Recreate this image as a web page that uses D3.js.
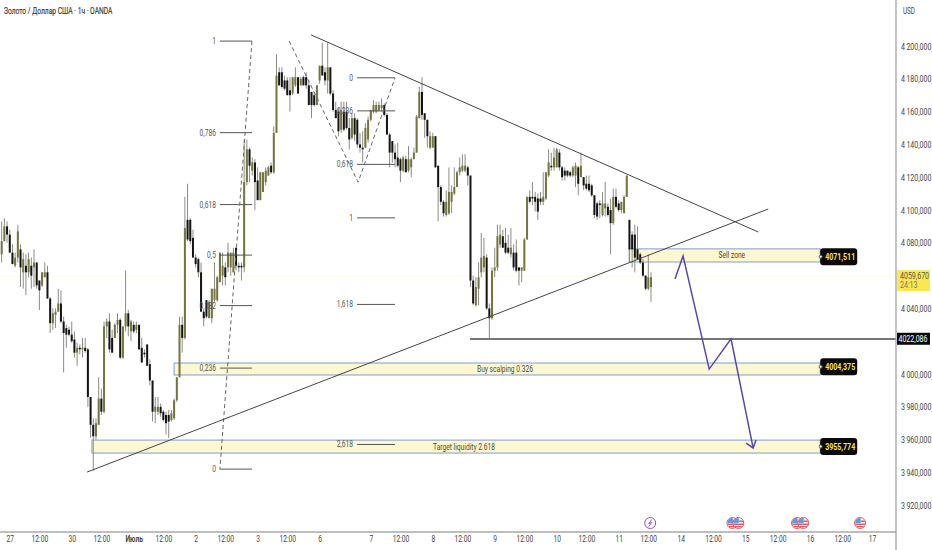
<!DOCTYPE html>
<html>
<head>
<meta charset="utf-8">
<script src="https://cdn.jsdelivr.net/npm/d3@7/dist/d3.min.js"></script>
<style>
  body { margin: 0; background: #fff; }
  svg { display: block; }
  text { font-family: Roboto, sans-serif; }
</style>
</head>
<body>
<div id="chart"></div>
<script>
// candle values, one bar per hour
var opens = [4073,4081,4090,4085,4074,4066,4071,4076,4062,4066,4062,4066,4065,4068,4057,4054,4059,4062,4046,4031,4036,4038,4043,4032,4028,4027,4024,4021,4013,4016,4015,4016,4015,3986,3969,3962,3969,3985,3977,4029,4032,4022,4022,4030,4033,4010,4029,4037,
  4026,4030,4027,4030,4016,4013,4018,4006,3996,3977,3977,3980,3977,3975,3975,3972,3973,3984,3998,4030,4022,4094,4094,4083,4071,4070,4062,4038,4045,4034,4034,4045,4045,4056,4060,4065,4065,4065,4062,4077,4066,4066,4065,4117,4137,4124,4129,4118,4106,4111,4117,4121,4127,4123,4147,
  4184,4184,4179,4179,4173,4171,4176,4181,4176,4181,4181,4176,4172,4170,4164,4179,4188,4184,4179,4187,4171,4161,4160,4149,4160,4160,4150,4144,4156,4155,4140,4138,4138,4143,4155,4160,4160,4161,4162,4164,4158,4146,4142,4135,4132,
  4131,4124,4131,4124,4126,4131,4135,4156,4172,4159,4155,4138,4138,4145,4127,4114,4105,4097,4098,4105,4110,4114,4123,4124,4124,4126,4121,4057,4042,4052,4062,4065,4071,4040,4034,4063,4065,4079,4084,4080,4077,4073,4074,4074,4065,4063,4063,4082,
  4108,4108,4108,4107,4107,4105,4107,4121,4127,4126,4126,4135,4126,4124,4124,4123,4121,4121,4126,4120,4120,4116,4116,4115,4109,4104,4104,4097,4101,4102,4100,4092,4108,4104,4100,4098,4108,4094,4085,4085,4076,4073,4068,4060,4052,4053];
var highs = [4093,4095,4093,4088,4079,4074,4091,4079,4074,4073,4074,4071,4076,4068,4057,4062,4068,4066,4047,4040,4040,4052,4051,4035,4030,4029,4032,4026,4019,4018,4022,4022,4016,3986,3973,3973,3998,3991,4032,4034,4037,4027,4031,4037,4034,4029,4063,4039,
  4033,4032,4032,4030,4022,4015,4018,4009,3996,3986,3986,3982,3978,3977,3978,3978,3985,3998,4035,4035,4108,4116,4095,4088,4073,4071,4068,4039,4045,4045,4052,4068,4060,4074,4074,4068,4080,4074,4077,4077,4068,4068,4143,4143,4138,4132,4131,4126,4123,4123,4126,4127,4129,4151,4195,
  4187,4187,4182,4181,4181,4181,4187,4181,4181,4182,4184,4179,4172,4172,4176,4188,4202,4187,4202,4187,4173,4166,4162,4166,4166,4166,4156,4159,4159,4156,4147,4148,4153,4157,4161,4167,4166,4166,4168,4165,4159,4147,4142,4140,4141,
  4132,4133,4133,4139,4132,4138,4158,4175,4181,4159,4155,4148,4147,4145,4127,4115,4106,4112,4126,4115,4126,4124,4132,4134,4134,4127,4121,4060,4059,4068,4086,4083,4073,4043,4065,4077,4091,4091,4088,4089,4085,4089,4079,4082,4065,4065,4083,4108,
  4112,4117,4111,4110,4111,4123,4123,4137,4135,4138,4138,4137,4127,4126,4124,4124,4127,4129,4127,4135,4120,4121,4121,4116,4109,4105,4106,4111,4117,4104,4107,4113,4113,4106,4105,4109,4121,4094,4087,4091,4090,4074,4070,4060,4073,4062];
var lows = [4068,4081,4080,4074,4067,4065,4068,4053,4052,4048,4059,4052,4053,4052,4039,4053,4059,4046,4025,4027,4028,4038,4031,4001,4016,4023,4019,4010,4005,4012,4010,4013,3980,3961,3941,3960,3969,3975,3976,4022,4013,4013,4022,4025,4009,4009,4026,4023,
  4020,4025,4025,4015,4007,4010,4005,3993,3971,3970,3975,3974,3971,3963,3961,3971,3972,3983,3998,4013,4021,4081,4079,4071,4065,4059,4038,4029,4034,4034,4031,4044,4044,4056,4054,4054,4062,4060,4062,4063,4062,4057,4062,4115,4117,4121,4100,4106,4106,4111,4115,4121,4122,4122,4147,
  4176,4174,4173,4170,4160,4170,4175,4171,4176,4176,4174,4164,4156,4163,4164,4177,4182,4176,4171,4170,4160,4156,4145,4147,4148,4149,4137,4143,4142,4138,4135,4129,4138,4141,4154,4159,4159,4160,4160,4157,4146,4126,4129,4126,4126,
  4117,4123,4123,4123,4120,4131,4135,4156,4155,4144,4138,4137,4138,4126,4093,4103,4096,4096,4097,4098,4109,4114,4121,4123,4123,4115,4053,4042,4041,4042,4059,4062,4039,4022,4033,4059,4063,4077,4077,4073,4073,4071,4063,4062,4054,4056,4063,4082,
  4104,4103,4099,4094,4103,4103,4106,4120,4124,4124,4126,4124,4118,4118,4120,4120,4120,4114,4109,4120,4112,4112,4111,4108,4095,4094,4095,4096,4096,4096,4073,4091,4101,4099,4098,4098,4108,4068,4065,4062,4070,4067,4059,4051,4051,4044];
var closes = [4081,4090,4085,4074,4067,4071,4087,4065,4070,4062,4070,4060,4068,4054,4051,4062,4062,4046,4031,4037,4038,4043,4032,4025,4024,4024,4020,4013,4016,4015,4016,4014,3986,3969,3962,3970,3985,3977,4029,4032,4015,4013,4030,4033,4010,4029,4037,4029,
  4032,4026,4030,4015,4007,4012,4005,3996,3977,3980,3980,3976,3972,3970,3971,3976,3984,3998,4030,4022,4089,4082,4081,4071,4067,4062,4038,4034,4035,4044,4052,4052,4059,4074,4066,4059,4074,4074,4074,4066,4065,4065,4117,4137,4127,4129,4117,4106,4123,4123,4124,4126,4123,4147,4182,
  4176,4175,4174,4170,4170,4181,4181,4171,4180,4176,4176,4164,4164,4164,4176,4188,4182,4179,4187,4171,4161,4156,4148,4161,4149,4150,4143,4156,4146,4140,4138,4137,4150,4155,4161,4164,4164,4164,4164,4158,4146,4135,4135,4131,4127,
  4124,4132,4123,4131,4131,4135,4157,4172,4158,4155,4145,4145,4145,4126,4114,4105,4098,4105,4111,4111,4114,4123,4126,4127,4127,4121,4057,4043,4053,4059,4071,4072,4040,4034,4063,4065,4084,4085,4077,4074,4074,4077,4065,4063,4063,4065,4082,4108,
  4105,4107,4105,4099,4105,4108,4123,4129,4126,4132,4137,4126,4120,4121,4121,4121,4126,4127,4116,4127,4115,4113,4112,4109,4097,4096,4103,4104,4104,4097,4092,4108,4102,4100,4105,4108,4121,4076,4076,4071,4070,4068,4060,4052,4059,4059];

var priceTicks = [4200,4180,4160,4140,4120,4100,4080,4040,4000,3980,3960,3940,3920];
var timeTickBars = [3,14,26,37,49,60,72,83,95,106,118,137,148,160,171,183,194,206,217,229,240,252,264,276,288,300,312,323];
var timeTickLabels = ["27","12:00","30","12:00","Июль","12:00","2","12:00","3","12:00","6","7","12:00","8","12:00","9","12:00","10","12:00","11","12:00","14","12:00","15","12:00","16","12:00","17"];

// drawings, as [bar, price]
var upperTrend = [[114.8,4206.8],[280.8,4086.6]];
var lowerTrend = [[31.7,3940.2],[284.5,4100.6]];
var fibARatios = [1,0.786,0.618,0.5,0.382,0.236,0];
var fibALabels = ["1","0,786","0,618","0,5","0,382","0,236","0"];
var fibABars = [81,92.9];
var fibAPrices = [3942,4203];
var fibAPath = [[92.9,4203],[81,3942]];
var fibBRatios = [0,0.236,0.618,1,1.618,2.618];
var fibBLabels = ["0","0,236","0,618","1","1,618","2,618"];
var fibBBars = [131.9,146];
var fibBPrices = [4180.6,4095.2];
var fibBPath = [[106.7,4203],[132.3,4117],[146,4180.6]];

var zoneNames = ["Sell zone","Buy scalping 0.326","Target liquidity 2.618"];
var zoneStartBars = [232.9,64,33.5];
var zoneEndBar = 303.8;
var zoneTextBars = [271,186.8,171.6];
var zoneTops = [4076.3,4006.7,3959.7];
var zoneBottoms = [4068.3,3999.4,3951.8];
var zoneLabels = [4071.511,4004.375,3955.774];

var levelPrice = 4022.086;
var levelLine = [[173.8,4021.4],[331.8,4021.4]];
var lastPrice = 4059.67;
var countdown = "24:13";
var arrowPath = [[249.9,4058],[252.9,4072],[262.6,4003],[270.7,4021.4],[278.9,3954.9]];
var arrowHead = [[276.3,3957.9],[278.9,3954.9],[280,3959.7]];
var boltBars = [240.7];
var flagBars = [271.2,273.4,295.2,297.5,318.6];

var svgWidth = 932;
var svgHeight = 550;
var axisX = 896;
var axisY = 532;
// the source font is condensed, none is installed so the text gets squeezed at the end
var textSqueeze = 0.74;

var svg = d3.select("#chart")
  .append("svg")
  .attr("width", svgWidth)
  .attr("height", svgHeight);

var x = d3.scaleLinear().domain([0, 241]).range([1.67, 651]);
var y = d3.scaleLinear().domain([3920, 4200]).range([505.2, 46]);
var line = d3.line().x(d => x(d[0])).y(d => y(d[1]));

var priceFormat = d3.formatLocale({decimal: ",", thousands: "\u2009", grouping: [3], currency: ["", ""]}).format(",.3f");

// faint last price line
svg.append("line")
  .attr("x1", 0).attr("x2", axisX)
  .attr("y1", y(lastPrice)).attr("y2", y(lastPrice))
  .attr("stroke", "#fdfbe0");

// zones go under the candles
var zones = svg.append("g");
zoneNames.forEach(function(name, i) {
  zones.append("rect")
    .attr("x", x(zoneStartBars[i]))
    .attr("y", y(zoneTops[i]))
    .attr("width", x(zoneEndBar) - x(zoneStartBars[i]))
    .attr("height", y(zoneBottoms[i]) - y(zoneTops[i]))
    .attr("fill", "#fdf8d2")
    .attr("stroke", "#7b9fd4")
    .attr("stroke-width", 1);
});

// candles
var bars = d3.range(closes.length);
var candles = svg.append("g");
candles.selectAll("line")
  .data(bars)
  .enter()
  .append("line")
  .attr("x1", d => x(d)).attr("x2", d => x(d))
  .attr("y1", d => y(highs[d])).attr("y2", d => y(lows[d]))
  .attr("stroke", "#8b8b85")
  .attr("stroke-width", 1);
candles.selectAll("rect")
  .data(bars)
  .enter()
  .append("rect")
  .attr("x", d => x(d) - 1)
  .attr("width", 2)
  .attr("y", d => y(Math.max(opens[d], closes[d])))
  .attr("height", d => Math.max(1, Math.abs(y(opens[d]) - y(closes[d]))))
  .attr("fill", d => closes[d] >= opens[d] ? "#74743f" : "#141414");

// zone texts and price tags
zoneNames.forEach(function(name, i) {
  svg.append("text")
    .attr("x", x(zoneTextBars[i]))
    .attr("y", y((zoneTops[i] + zoneBottoms[i]) / 2) + 3)
    .attr("text-anchor", "middle")
    .attr("font-size", 9)
    .attr("fill", "#4a4a30")
    .text(name);
  var tagY = y(zoneLabels[i]);
  svg.append("rect")
    .attr("x", x(zoneEndBar)).attr("y", tagY - 8.5)
    .attr("width", 37).attr("height", 17).attr("rx", 3)
    .attr("fill", "#0a0a0a");
  svg.append("circle")
    .attr("cx", x(zoneEndBar) + 0.5).attr("cy", tagY)
    .attr("r", 1.5)
    .attr("fill", "#fdf8d2").attr("stroke", "#555");
  svg.append("text")
    .attr("x", x(zoneEndBar) + 20).attr("y", tagY + 3.2)
    .attr("text-anchor", "middle")
    .attr("font-size", 9.5)
    .attr("font-weight", 700)
    .attr("fill", "#f7e94c")
    .text(priceFormat(zoneLabels[i]).replace("\u2009", ""));
});

// fib tools
function drawFib(ratios, labels, barsRange, prices, path) {
  var g = svg.append("g");
  ratios.forEach(function(r, i) {
    var p = prices[0] + (prices[1] - prices[0]) * r;
    g.append("line")
      .attr("x1", x(barsRange[0])).attr("x2", x(barsRange[1]))
      .attr("y1", y(p)).attr("y2", y(p))
      .attr("stroke", "#555")
      .attr("stroke-width", 1);
    g.append("text")
      .attr("x", x(barsRange[0]) - 4).attr("y", y(p) + 3)
      .attr("text-anchor", "end")
      .attr("font-size", 9)
      .attr("fill", "#555")
      .text(labels[i]);
  });
  g.append("path")
    .attr("d", line(path))
    .attr("fill", "none")
    .attr("stroke", "#666")
    .attr("stroke-width", 1)
    .attr("stroke-dasharray", "4 3");
}
drawFib(fibARatios, fibALabels, fibABars, fibAPrices, fibAPath);
drawFib(fibBRatios, fibBLabels, fibBBars, fibBPrices, fibBPath);

// trend lines
[upperTrend, lowerTrend].forEach(function(t) {
  svg.append("path")
    .attr("d", line(t))
    .attr("fill", "none")
    .attr("stroke", "#454545")
    .attr("stroke-width", 1);
});

svg.append("path")
  .attr("d", line(levelLine))
  .attr("stroke", "#4a4a4a")
  .attr("stroke-width", 1.5);

// forecast arrow
[arrowPath, arrowHead].forEach(function(p) {
  svg.append("path")
    .attr("d", line(p))
    .attr("fill", "none")
    .attr("stroke", "#5548ac")
    .attr("stroke-width", 1.5);
});

// axes
var axisFont = "Roboto, sans-serif";
var bottomAxis = d3.axisBottom(x)
  .tickValues(timeTickBars)
  .tickSize(0)
  .tickPadding(4)
  .tickFormat((d, i) => timeTickLabels[i]);
var xAxis = svg.append("g")
  .attr("transform", `translate(0, ${axisY})`)
  .call(bottomAxis);
xAxis.select(".domain").remove();
xAxis.selectAll("text")
  .attr("font-size", 9)
  .attr("font-family", axisFont)
  .attr("fill", "#444")
  .filter(d => d == 49)
  .attr("font-weight", 700);

var rightAxis = d3.axisRight(y)
  .tickValues(priceTicks)
  .tickSize(0)
  .tickPadding(5)
  .tickFormat(priceFormat);
var yAxis = svg.append("g")
  .attr("transform", `translate(${axisX}, 0)`)
  .call(rightAxis);
yAxis.select(".domain").remove();
yAxis.selectAll("text")
  .attr("font-size", 9.5)
  .attr("font-family", axisFont)
  .attr("fill", "#444");

svg.append("line")
  .attr("x1", 0).attr("x2", axisX)
  .attr("y1", axisY).attr("y2", axisY)
  .attr("stroke", "#a8a8a8").attr("stroke-width", 1.5);
svg.append("line")
  .attr("x1", axisX).attr("x2", axisX)
  .attr("y1", 0).attr("y2", svgHeight)
  .attr("stroke", "#8a8a8a").attr("stroke-width", 1);

// price tags on the axis
svg.append("rect")
  .attr("x", axisX + 1).attr("y", y(levelPrice) - 5)
  .attr("width", 33).attr("height", 12)
  .attr("fill", "#0a0a0a");
svg.append("text")
  .attr("x", axisX + 17).attr("y", y(levelPrice) + 4.5)
  .attr("text-anchor", "middle")
  .attr("font-size", 9.5)
  .attr("fill", "#fff")
  .text(priceFormat(levelPrice).replace("\u2009", ""));

svg.append("rect")
  .attr("x", axisX + 1).attr("y", y(lastPrice) - 6)
  .attr("width", 33).attr("height", 21)
  .attr("fill", "#fbe84e");
svg.append("text")
  .attr("x", axisX + 4).attr("y", y(lastPrice) + 2.5)
  .attr("font-size", 9.5)
  .attr("fill", "#555")
  .text(priceFormat(lastPrice).replace("\u2009", ""));
svg.append("text")
  .attr("x", axisX + 4).attr("y", y(lastPrice) + 12)
  .attr("font-size", 9.5)
  .attr("fill", "#777")
  .text(countdown);

svg.append("text")
  .attr("x", 903).attr("y", 14)
  .attr("font-size", 8.5)
  .attr("fill", "#444")
  .text("USD");

svg.append("text")
  .attr("x", 4).attr("y", 14)
  .attr("font-size", 9)
  .attr("fill", "#333")
  .attr("stroke", "#333")
  .attr("stroke-width", 0.15)
  .text("Золото / Доллар США · 1ч · OANDA");

// event markers on the time line
var eventY = 523;
boltBars.forEach(function(b) {
  svg.append("circle")
    .attr("cx", x(b)).attr("cy", eventY).attr("r", 5.5)
    .attr("fill", "#fff").attr("stroke", "#9c4fc4").attr("stroke-width", 1);
  svg.append("path")
    .attr("d", d3.line()([[x(b) + 1.5, eventY - 3.5], [x(b) - 1.5, eventY + 0.5], [x(b) + 1.5, eventY - 0.5], [x(b) - 1.5, eventY + 3.5]]))
    .attr("fill", "none")
    .attr("stroke", "#9c4fc4")
    .attr("stroke-width", 1);
});

var defs = svg.append("defs");
flagBars.forEach(function(b, i) {
  var cx = x(b);
  defs.append("clipPath")
    .attr("id", "flag" + i)
    .append("circle")
    .attr("cx", cx).attr("cy", eventY).attr("r", 5);
  var f = svg.append("g").attr("clip-path", `url(#flag${i})`);
  f.append("rect").attr("x", cx - 5).attr("y", eventY - 5).attr("width", 10).attr("height", 10).attr("fill", "#fff");
  f.append("rect").attr("x", cx - 5).attr("y", eventY + 0.5).attr("width", 10).attr("height", 1.5).attr("fill", "#e8575f");
  f.append("rect").attr("x", cx - 5).attr("y", eventY + 3).attr("width", 10).attr("height", 1.5).attr("fill", "#e8575f");
  f.append("rect").attr("x", cx - 5).attr("y", eventY - 5).attr("width", 5.5).attr("height", 5).attr("fill", "#5b9ae6");
  f.append("rect").attr("x", cx + 0.5).attr("y", eventY - 2.5).attr("width", 5).attr("height", 1.5).attr("fill", "#e8575f");
  svg.append("circle")
    .attr("cx", cx).attr("cy", eventY).attr("r", 5.5)
    .attr("fill", "none").attr("stroke", "#e8575f").attr("stroke-width", 1);
});

// squeeze every text to the condensed width of the reference
svg.selectAll("text").each(function() {
  var len = this.getComputedTextLength();
  d3.select(this)
    .attr("textLength", len * textSqueeze)
    .attr("lengthAdjust", "spacingAndGlyphs");
});
</script>
</body>
</html>
